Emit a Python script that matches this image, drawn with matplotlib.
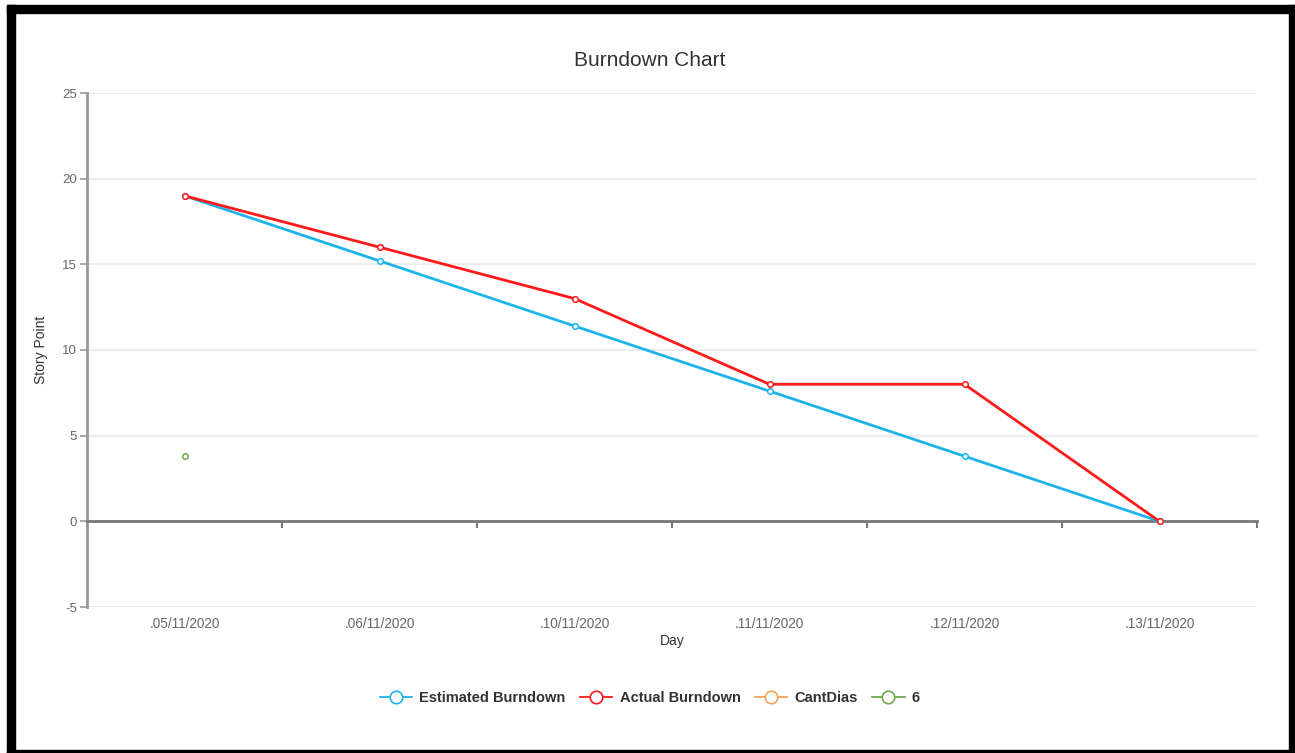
import matplotlib.pyplot as plt
from matplotlib.lines import Line2D
from matplotlib.patches import Rectangle

plt.rcParams['font.family'] = ['Liberation Sans', 'DejaVu Sans']
plt.rcParams['axes.unicode_minus'] = False

# chart data
days = ['.05/11/2020', '.06/11/2020', '.10/11/2020', '.11/11/2020', '.12/11/2020', '.13/11/2020']
estimated = [19, 15.2, 11.4, 7.6, 3.8, 0]
actual = [19, 16, 13, 8, 8, 0]
cant_dias = []
six = [3.8]
y_ticks = [-5, 0, 5, 10, 15, 20, 25]

blue = '#1eb4ea'
red = '#ff1a1a'
orange = '#f7a35c'
green = '#70a84a'

W, H = 1295, 753
fig = plt.figure(figsize=(W / 100, H / 100), dpi=100)
ax = fig.add_axes([87 / W, 1 - 607 / H, 1170 / W, 514 / H])

x = list(range(len(days)))
mk = dict(marker='o', markersize=4, markerfacecolor='white', markeredgewidth=1.1)
ax.plot(x, estimated, color=blue, lw=2, zorder=3, **mk)
ax.plot(x, actual, color=red, lw=2, zorder=4, **mk)
ax.plot(x[:len(cant_dias)], cant_dias, color=orange, lw=2, zorder=3, **mk)
ax.plot(x[:len(six)], six, color=green, lw=2, zorder=3, **mk)

ax.set_xlim(-0.5, len(days) - 0.5)
ax.set_ylim(min(y_ticks), max(y_ticks))

# grid lines and axes
for v in y_ticks:
    if v != 0:
        ax.axhline(v, color='#ececec', lw=1.5, zorder=1)
ax.spines['top'].set_visible(False)
ax.spines['right'].set_visible(False)
ax.spines['left'].set_color('#999999')
ax.spines['left'].set_linewidth(2)
ax.spines['bottom'].set_position(('data', 0))
ax.spines['bottom'].set_color('#777777')
ax.spines['bottom'].set_linewidth(2)

ax.set_yticks(y_ticks)
ax.tick_params(axis='y', length=5, width=1.2, color='#999999', labelcolor='#666666',
               labelsize=9.5, pad=2)
ax.set_xticks([i - 0.5 for i in range(len(days) + 1)])
ax.set_xticklabels([])
ax.tick_params(axis='x', length=5, width=1.5, color='#777777', direction='out')

for i, d in enumerate(days):
    ax.text(i, -0.033, d, transform=ax.get_xaxis_transform(), ha='center', va='center',
            fontsize=9.8, color='#666666')

ax.text(0.5, -0.066, 'Day', transform=ax.transAxes, ha='center', va='center',
        fontsize=10, color='#333333')
ax.text(-0.039, 0.5, 'Story Point', transform=ax.transAxes, ha='center', va='center',
        rotation=90, fontsize=10, color='#333333')

fig.text(650 / W, 1 - 60 / H, 'Burndown Chart', ha='center', va='center',
         fontsize=15, color='#333333')

# legend
handles = [Line2D([], [], color=c, lw=1.3, marker='o', markersize=9,
                  markerfacecolor='white', markeredgewidth=1.2)
           for c in (blue, red, orange, green)]
labels = ['Estimated Burndown', 'Actual Burndown', 'CantDias', '6']
leg = fig.legend(handles, labels, loc='center', bbox_to_anchor=(650 / W, 1 - 698 / H),
                 ncol=4, frameon=False, handlelength=2.2, handletextpad=0.5,
                 columnspacing=1.0, prop={'size': 10.5, 'weight': 'bold'})
for t in leg.get_texts():
    t.set_color('#333333')

# black frame around the chart
frame = dict(transform=None, color='black', zorder=10)
fig.patches.extend([
    Rectangle((7, 0), 8, H - 5, **frame),
    Rectangle((7, H - 13), W - 7, 8, **frame),
    Rectangle((1289, 0), 6, H - 5, **frame),
    Rectangle((7, 0), W - 7, 3, **frame),
])

fig.savefig('out.png', dpi=100)
